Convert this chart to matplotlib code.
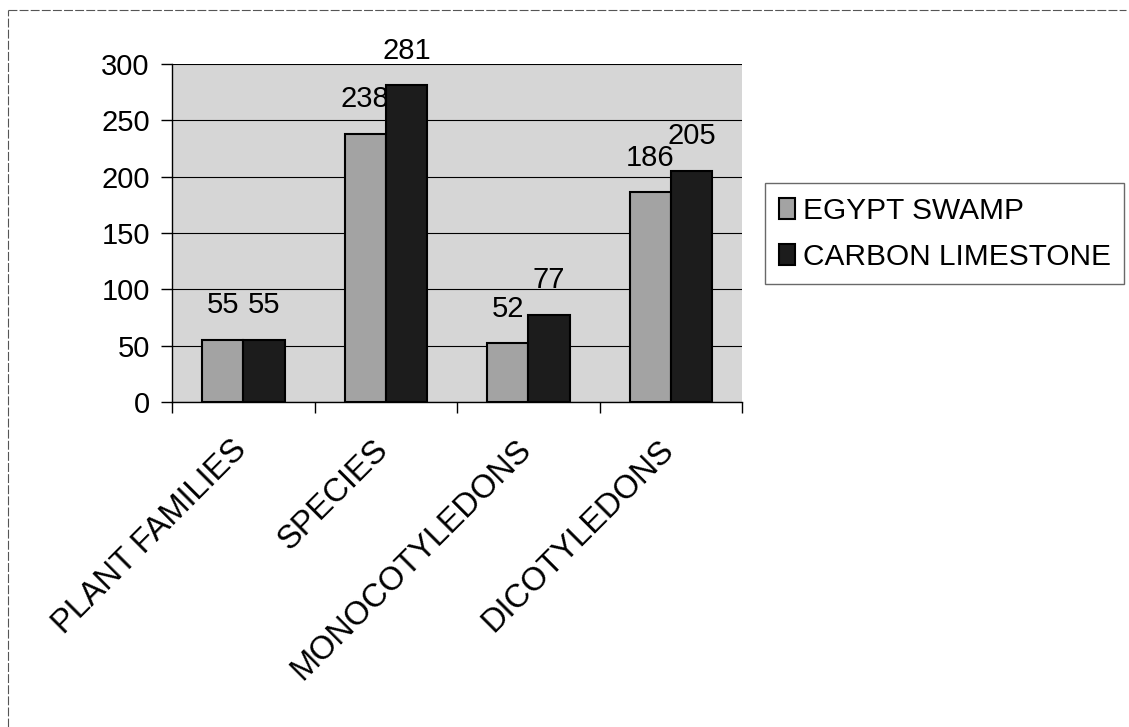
import numpy as np
import matplotlib
matplotlib.use("Agg")
from matplotlib import pyplot as plt
from matplotlib.lines import Line2D

plt.rcParams['font.family'] = ['Liberation Sans', 'DejaVu Sans']

categories = ['PLANT FAMILIES', 'SPECIES', 'MONOCOTYLEDONS', 'DICOTYLEDONS']
egypt_swamp = [55, 238, 52, 186]
carbon_limestone = [55, 281, 77, 205]
series_names = ['EGYPT SWAMP', 'CARBON LIMESTONE']
yticks = [0, 50, 100, 150, 200, 250, 300]

fig = plt.figure(figsize=(11.29, 7.27), dpi=100)
ax = fig.add_axes([0.1524, 0.447, 0.505, 0.465])
ax.set_facecolor('#d6d6d6')

x = np.arange(len(categories))
w = 0.29
b1 = ax.bar(x - w / 2, egypt_swamp, w, color='#a3a3a3', edgecolor='black', linewidth=1.5,
            label=series_names[0], zorder=3)
b2 = ax.bar(x + w / 2, carbon_limestone, w, color='#1c1c1c', edgecolor='black', linewidth=1.5,
            label=series_names[1], zorder=3.5)

# value labels float above the bars; the second bar may hide part of the first label
for bars in (b1, b2):
    for r in bars:
        v = r.get_height()
        ax.annotate(f'{v:g}', (r.get_x() + r.get_width() / 2, v), xytext=(0, 15),
                    textcoords='offset points', ha='center', va='bottom',
                    fontsize=21, zorder=3.2, annotation_clip=False)

ax.set_xlim(-0.5, len(categories) - 0.5)
ax.set_ylim(0, 300)
ax.set_yticks(yticks)
ax.tick_params(axis='y', labelsize=21, length=8, width=1, direction='out', pad=8)
ax.yaxis.grid(True, color='black', linewidth=0.8, zorder=1)

# category ticks sit on the group boundaries, labels centred under groups
ax.set_xticks(np.arange(len(categories) + 1) - 0.5)
ax.set_xticklabels([])
ax.tick_params(axis='x', length=8, width=1, direction='out')
for xi, name in zip(x, categories):
    ax.text(xi - 0.09, -0.095, name, rotation=45, ha='right', va='top', rotation_mode='anchor',
            fontsize=23.5, transform=ax.get_xaxis_transform(), clip_on=False)

for s in ['top', 'right']:
    ax.spines[s].set_visible(False)
ax.spines['left'].set_linewidth(1)
ax.spines['bottom'].set_linewidth(1)

leg = fig.legend(handles=[b1, b2], loc='upper left', bbox_to_anchor=(0.678, 0.748),
                 fontsize=21.5, frameon=True, fancybox=False, edgecolor='#444444',
                 handlelength=0.55, handleheight=0.7, handletextpad=0.25,
                 borderpad=0.45, labelspacing=0.6, borderaxespad=0)
leg.get_frame().set_linewidth(1)

# outer frame, only top and left edges
fig.add_artist(Line2D([0.007, 0.997], [0.986, 0.986], color='#555555', linewidth=0.8,
                      linestyle=(0, (8, 2))))
fig.add_artist(Line2D([0.007, 0.007], [0.0, 0.986], color='#555555', linewidth=0.8,
                      linestyle=(0, (8, 2))))

fig.savefig('out.png', dpi=100, facecolor='white')
